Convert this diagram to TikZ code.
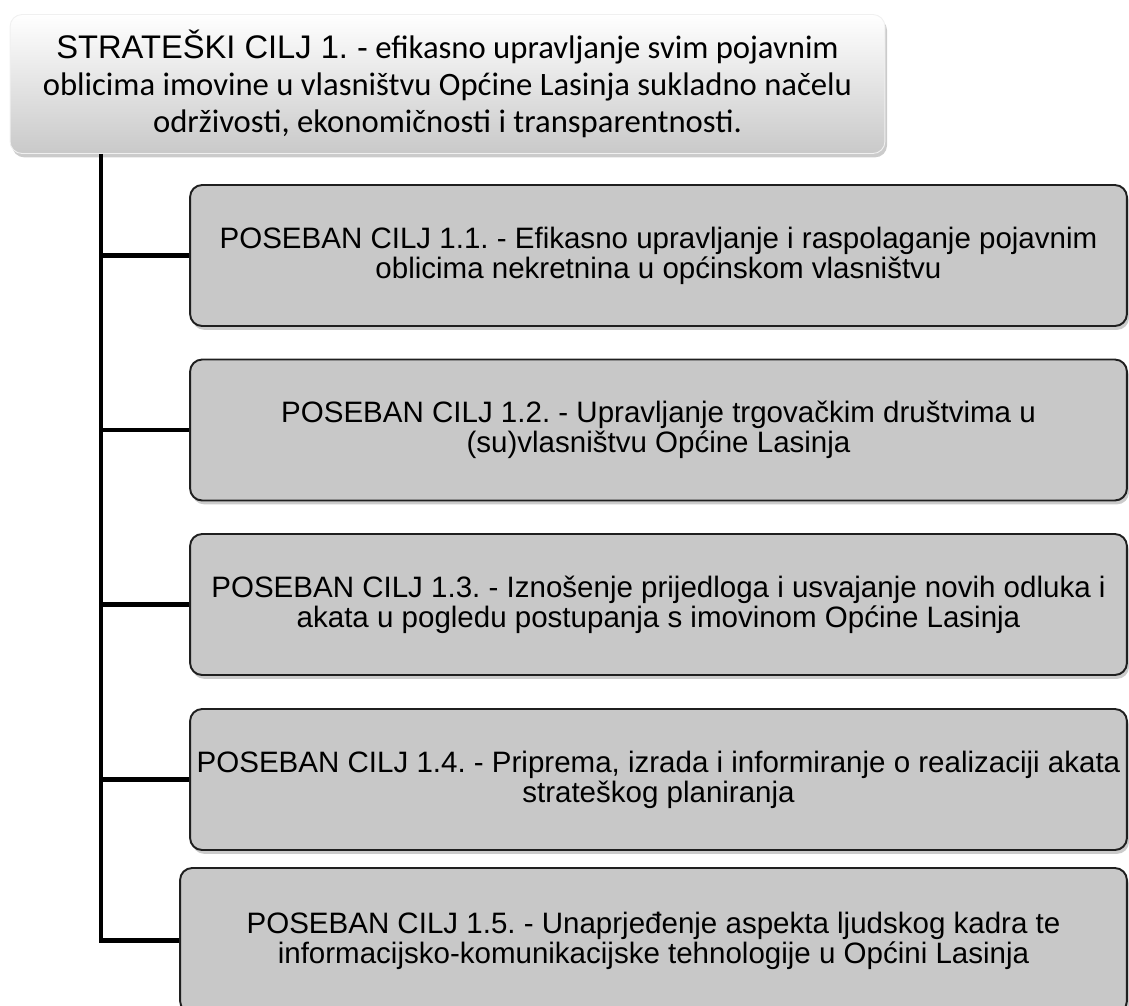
\documentclass[tikz,border=0pt]{standalone}
\usepackage{fontspec}
\setmainfont{Liberation Sans}
\newfontfamily\calibri{Carlito}
\usetikzlibrary{shadows}
\frenchspacing
\definecolor{boxgray}{HTML}{C8C8C8}
\definecolor{goalgray}{HTML}{C9C9C9}
\tikzset{
  goalbox/.style={draw=black!6, line width=0.5pt, rounded corners=0.24cm,
    top color=white, bottom color=goalgray, minimum width=17.5cm, minimum height=2.78cm,
    align=center, font=\calibri\fontsize{18.6}{20.9}\selectfont,
    drop shadow={shadow xshift=1.2pt, shadow yshift=-2.2pt, fill=black!45, opacity=0.45}},
  aimbox/.style={draw=black!88, line width=1.1pt, rounded corners=0.24cm, fill=boxgray,
    minimum width=18.74cm, minimum height=2.82cm, align=center,
    font=\fontsize{16.8}{17}\selectfont,
    drop shadow={shadow xshift=1.2pt, shadow yshift=-2.2pt, fill=black!45, opacity=0.45}},
  link/.style={line width=2.3pt}
}
\begin{document}
\begin{tikzpicture}[x=0.02cm, y=-0.02cm]
    \useasboundingbox (0,0) rectangle (1129,1005);
    \clip (0,0) rectangle (1129,1005);
    % strateski cilj
    \node[goalbox] (goal) at (447.5,84)
      {{\rmfamily STRATEŠKI CILJ 1. -} efikasno upravljanje svim pojavnim\\
       oblicima imovine u vlasništvu Općine Lasinja sukladno načelu\\
       održivosti, ekonomičnosti i transparentnosti.};
    % posebni ciljevi
    \node[aimbox] (c1) at (658.5,255.5)
      {POSEBAN CILJ 1.1. - Efikasno upravljanje i raspolaganje pojavnim\\
       oblicima nekretnina u općinskom vlasništvu};
    \node[aimbox] (c2) at (658.5,430)
      {POSEBAN CILJ 1.2. - Upravljanje trgovačkim društvima u\\
       (su)vlasništvu Općine Lasinja};
    \node[aimbox] (c3) at (658.5,604.5)
      {POSEBAN CILJ 1.3. - Iznošenje prijedloga i usvajanje novih odluka i\\
       akata u pogledu postupanja s imovinom Općine Lasinja};
    \node[aimbox] (c4) at (658.5,779.5)
      {POSEBAN CILJ 1.4. - Priprema, izrada i informiranje o realizaciji akata\\
       strateškog planiranja};
    \node[aimbox, minimum width=18.94cm, minimum height=2.9cm] (c5) at (653.5,940.5)
      {POSEBAN CILJ 1.5. - Unaprjeđenje aspekta ljudskog kadra te\\
       informacijsko-komunikacijske tehnologije u Općini Lasinja};
    % veze
    \coordinate (spine) at (101,152);
    \draw[link] (goal.south -| spine) |- (c5.west);
    \foreach \n in {c1,c2,c3,c4}
      \draw[link] (spine |- \n.west) -- (\n.west);
\end{tikzpicture}
\end{document}
